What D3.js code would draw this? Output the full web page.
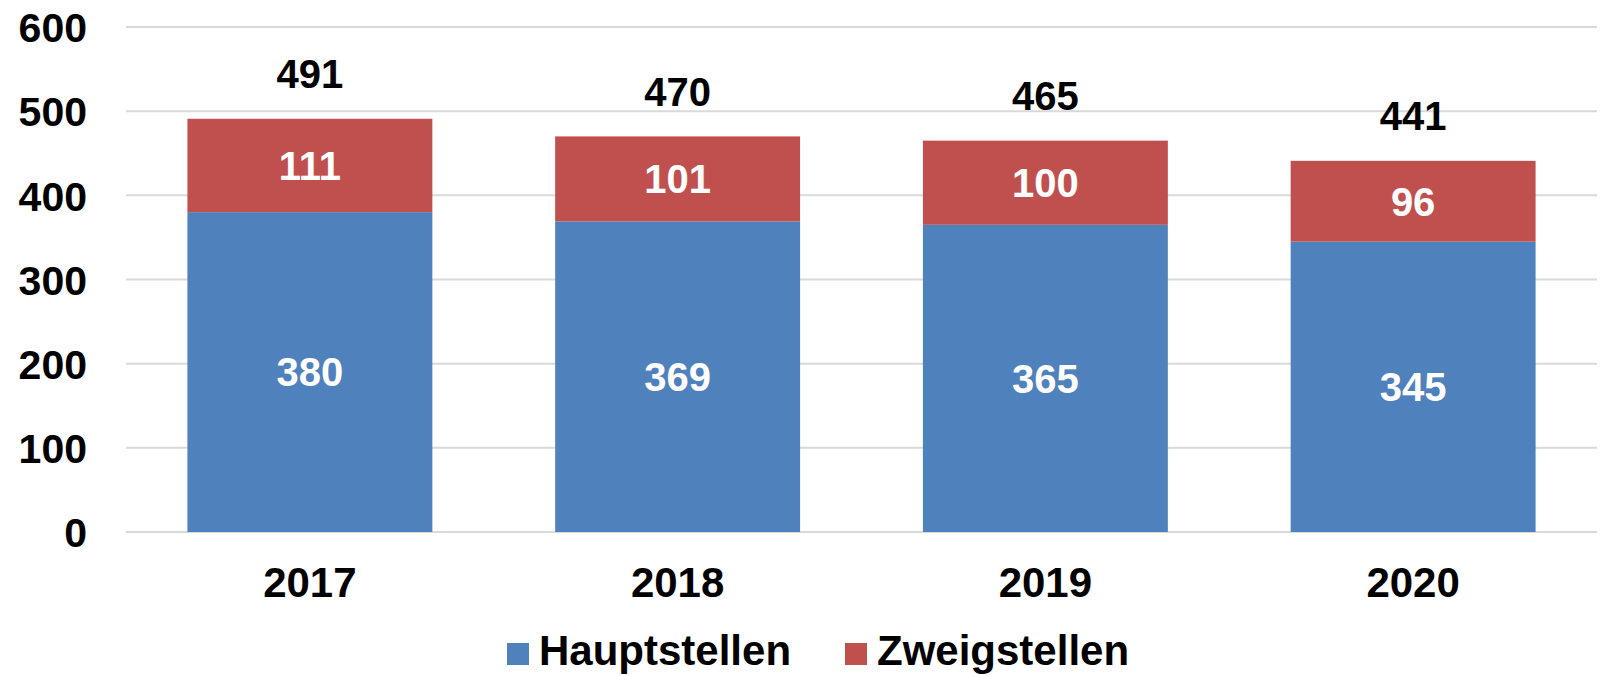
<!DOCTYPE html>
<html>
<head>
<meta charset="utf-8">
<script src="https://cdn.jsdelivr.net/npm/d3@7"></script>
<style>
  body { margin: 0; background: #fff; }
  svg text { font-family: "Liberation Sans", Arial, sans-serif; font-weight: bold; }
</style>
</head>
<body>
<div id="chart"></div>
<script>
let years = ['2017', '2018', '2019', '2020'];
let hauptstellen = [380, 369, 365, 345];
let zweigstellen = [111, 101, 100, 96];
let totals = [491, 470, 465, 441];
let yTicks = [0, 100, 200, 300, 400, 500, 600];
let seriesNames = ['Hauptstellen', 'Zweigstellen'];
let colors = ['#4f81bd', '#c0504d'];

let width = 1604, height = 676;
let svg = d3.select('#chart').append('svg')
    .attr('width', width)
    .attr('height', height);

let xScale = d3.scaleBand()
    .domain(years)
    .range([126, 1597])
    .paddingInner(0.334)
    .paddingOuter(0.167);

let yScale = d3.scaleLinear()
    .domain([0, 600])
    .range([532, 27]);

// gridlines
svg.append('g').selectAll('line').data(yTicks).enter()
    .append('line')
        .attr('x1', 126)
        .attr('x2', 1597)
        .attr('y1', d => yScale(d))
        .attr('y2', d => yScale(d))
        .attr('stroke', '#d9d9d9')
        .attr('stroke-width', 2);

// y axis labels
let yAxis = d3.axisLeft(yScale).tickValues(yTicks).tickSize(0).tickPadding(0);
let yAxisGroup = svg.append('g')
    .attr('transform', 'translate(87,0)')
    .call(yAxis);
yAxisGroup.select('.domain').remove();
yAxisGroup.selectAll('text')
    .attr('font-size', 41)
    .attr('font-family', '"Liberation Sans", Arial, sans-serif')
    .attr('font-weight', 'bold')
    .attr('fill', '#000')
    .attr('dy', '0.36em');

// x axis labels
let xAxis = d3.axisBottom(xScale).tickSize(0).tickPadding(0);
let xAxisGroup = svg.append('g')
    .attr('transform', 'translate(0,582)')
    .call(xAxis);
xAxisGroup.select('.domain').remove();
xAxisGroup.selectAll('text')
    .attr('font-size', 42)
    .attr('font-family', '"Liberation Sans", Arial, sans-serif')
    .attr('font-weight', 'bold')
    .attr('fill', '#000')
    .attr('dy', '0.36em');

// stacked data
let rows = years.map((y, i) => ({ year: y, Hauptstellen: hauptstellen[i], Zweigstellen: zweigstellen[i], total: totals[i] }));
let stacked = d3.stack().keys(seriesNames)(rows);

let layers = svg.selectAll('g.layer').data(stacked).enter()
    .append('g')
        .classed('layer', true)
        .attr('fill', (d, i) => colors[i]);

layers.selectAll('rect').data(d => d).enter()
    .append('rect')
        .attr('x', d => xScale(d.data.year))
        .attr('y', d => yScale(d[1]))
        .attr('width', xScale.bandwidth())
        .attr('height', d => yScale(d[0]) - yScale(d[1]));

layers.selectAll('text').data(d => d).enter()
    .append('text')
        .attr('x', d => xScale(d.data.year) + xScale.bandwidth() / 2)
        .attr('y', d => (yScale(d[0]) + yScale(d[1])) / 2)
        .attr('dy', '0.36em')
        .attr('text-anchor', 'middle')
        .attr('font-size', 40)
        .attr('fill', '#fff')
        .text(d => d[1] - d[0]);

// totals above the bars
svg.append('g').selectAll('text').data(rows).enter()
    .append('text')
        .attr('x', d => xScale(d.year) + xScale.bandwidth() / 2)
        .attr('y', d => yScale(d.total) - 45)
        .attr('dy', '0.36em')
        .attr('text-anchor', 'middle')
        .attr('font-size', 40)
        .attr('fill', '#000')
        .text(d => d.total);

// legend
let legendX = [507, 845];
let legend = svg.append('g').selectAll('g').data(seriesNames).enter()
    .append('g')
        .attr('transform', (d, i) => `translate(${legendX[i]},643)`);
legend.append('rect')
    .attr('width', 22)
    .attr('height', 22)
    .attr('fill', (d, i) => colors[i]);
legend.append('text')
    .attr('x', 32)
    .attr('y', 22)
    .attr('font-size', 42)
    .attr('fill', '#000')
    .text(d => d);
</script>
</body>
</html>
